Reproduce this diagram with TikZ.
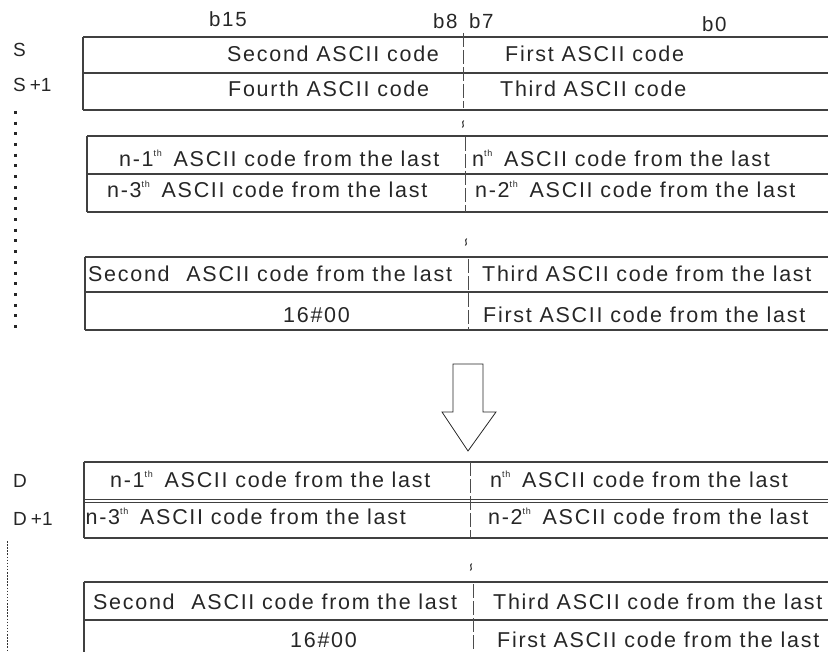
\documentclass[tikz,border=0pt]{standalone}
\usepackage{fontspec}
\setmainfont{Liberation Sans}[LetterSpace=8]
\newfontfamily\labfam{Liberation Sans}
\newfontfamily\bitfam{Liberation Sans}[LetterSpace=8]
\newcommand{\cellfont}{\fontsize{21.5}{23}\selectfont}
\newcommand{\labfont}{\labfam\fontsize{19}{21}\selectfont}
\newcommand{\bitfont}{\bitfam\fontsize{20.5}{22}\selectfont}
\newcommand{\thsup}{\raisebox{10pt}{\fontsize{9}{9}\selectfont th}}
\begin{document}
\begin{tikzpicture}[x=1pt,y=-1pt,
  rule/.style={draw=black!75, line width=1.1pt},
  divider/.style={draw=black!70, line width=0.9pt, dash pattern=on 14pt off 3pt},
  txt/.style={anchor=base west, inner sep=0pt, font=\cellfont, text=black!85},
  lbl/.style={anchor=base west, inner sep=0pt, font=\labfont, text=black!85},
  bit/.style={anchor=base west, inner sep=0pt, font=\bitfont, text=black!85},
  brk/.style={draw=black!85, line width=1pt},
  dotsA/.style={draw=black!85, line width=3pt, dash pattern=on 3pt off 7.72pt},
  dotsB/.style={draw=black!80, line width=1.8pt, dash pattern=on 1.5pt off 1.6pt},
  bigarrow/.style={draw=black!85, line width=0.8pt, fill=white}]
\useasboundingbox (0,0) rectangle (828,652);

% bit labels
\node[bit] (b15) at (209,27) {b15};
\node[bit] (b8) at (433,29) {b8};
\node[bit] (b7) at (469,29) {b7};
\node[bit] (b0) at (702,32) {b0};

% register labels
\node[lbl] (S) at (13,57) {S};
\node[lbl] (S1) at (13,92) {S\hspace{4pt}+1};
\node[lbl] (D) at (13,487) {D};
\node[lbl] (D1) at (13,525) {D\hspace{4pt}+1};

% dotted continuation lines
\coordinate (dotSa) at (15,110.8);
\coordinate (dotSb) at (15,330);
\draw[dotsA] (dotSa) -- (dotSb);
\coordinate (dotDa) at (7.5,541);
\coordinate (dotDb) at (7.5,652);
\draw[dotsB] (dotDa) -- (dotDb);

% ---- table 1 (S, S+1)
\draw[rule] (83,37) -- (828,37);
\draw[rule] (83,73) -- (828,73);
\draw[rule] (83,110) -- (828,110);
\draw[rule] (83,37) -- (83,110);
\draw[divider] (463,33) -- (463,108);
\node[txt] (s1a) at (227,62) {Second ASCII code};
\node[txt] (s1b) at (505,62) {First ASCII code};
\node[txt] (s2a) at (228,97) {Fourth ASCII code};
\node[txt] (s2b) at (500,97) {Third ASCII code};

\coordinate (gap1) at (463,124);
\draw[brk] ([shift={(0.6,-3.5)}]gap1) .. controls ([shift={(-2,-1.5)}]gap1) and ([shift={(2,1.5)}]gap1) .. ([shift={(-0.6,3.5)}]gap1);

% ---- table 2
\draw[rule] (87,136) -- (828,136);
\draw[rule] (87,174) -- (828,174);
\draw[rule] (87,212) -- (828,212);
\draw[rule] (87,136) -- (87,212);
\draw[divider] (465,137) -- (465,212);
\node[txt] (s3a) at (119,167) {n-1\thsup\hspace{4pt} ASCII code from the last};
\node[txt] (s3b) at (472,167) {n\thsup\hspace{4pt} ASCII code from the last};
\node[txt] (s4a) at (107,198) {n-3\thsup\hspace{4pt} ASCII code from the last};
\node[txt] (s4b) at (475,198) {n-2\thsup\hspace{4pt} ASCII code from the last};

\coordinate (gap2) at (466,242);
\draw[brk] ([shift={(0.6,-3.5)}]gap2) .. controls ([shift={(-2,-1.5)}]gap2) and ([shift={(2,1.5)}]gap2) .. ([shift={(-0.6,3.5)}]gap2);

% ---- table 3
\draw[rule] (85,257) -- (828,257);
\draw[rule] (85,292) -- (828,292);
\draw[rule] (85,330) -- (828,330);
\draw[rule] (85,257) -- (85,330);
\draw[divider] (468,259) -- (468,330);
\node[txt] (s5a) at (88,282) {Second\hspace{9pt} ASCII code from the last};
\node[txt] (s5b) at (482,282) {Third ASCII code from the last};
\node[txt] (s6a) at (283,323) {16\#00};
\node[txt] (s6b) at (483,323) {First ASCII code from the last};

% ---- big arrow
\draw[bigarrow] (453,364) -- (483,364) -- (483,412) -- (496,412) -- (468,451)
  -- (442,412) -- (453,412) -- cycle;

% ---- table D1
\draw[rule] (84,462) -- (828,462);
\draw[rule, line width=0.8pt] (84,499.5) -- (828,499.5);
\draw[rule, line width=0.8pt] (84,502) -- (828,502);
\draw[rule] (84,538) -- (828,538);
\draw[rule] (84,462) -- (84,538);
\draw[divider] (470,462) -- (470,538);
\node[txt] (d1a) at (110,487) {n-1\thsup\hspace{4pt} ASCII code from the last};
\node[txt] (d1b) at (490,487) {n\thsup\hspace{4pt} ASCII code from the last};
\node[txt] (d2a) at (85.5,524) {n-3\thsup\hspace{4pt} ASCII code from the last};
\node[txt] (d2b) at (488,524) {n-2\thsup\hspace{4pt} ASCII code from the last};

\coordinate (gap3) at (471,567);
\draw[brk] ([shift={(0.6,-3.5)}]gap3) .. controls ([shift={(-2,-1.5)}]gap3) and ([shift={(2,1.5)}]gap3) .. ([shift={(-0.6,3.5)}]gap3);

% ---- table D2
\draw[rule] (84,582) -- (828,582);
\draw[rule] (84,620) -- (828,620);
\draw[rule] (84,656) -- (828,656);
\draw[rule] (84,582) -- (84,656);
\draw[divider] (473,584) -- (473,652);
\node[txt] (d3a) at (93,609) {Second\hspace{9pt} ASCII code from the last};
\node[txt] (d3b) at (493,609) {Third ASCII code from the last};
\node[txt] (d4a) at (290,647) {16\#00};
\node[txt] (d4b) at (497,647) {First ASCII code from the last};
\end{tikzpicture}
\end{document}
